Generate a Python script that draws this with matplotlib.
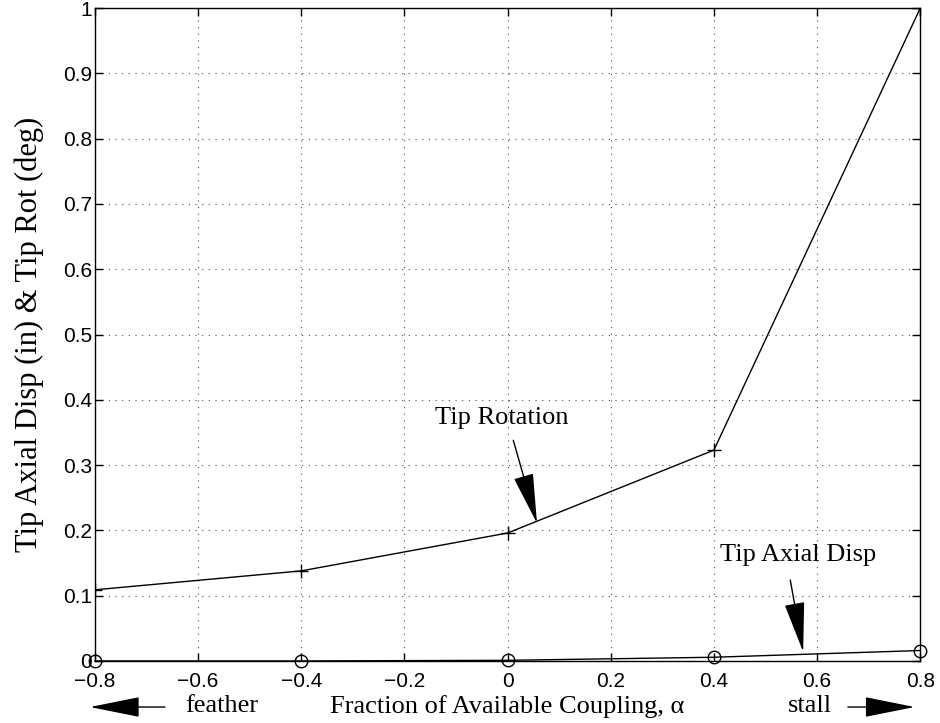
import matplotlib
matplotlib.use("Agg")
import matplotlib.pyplot as plt

# Coupling fraction (alpha) and tip responses
alpha = [-0.8, -0.4, 0.0, 0.4, 0.8]
tip_rotation = [0.109, 0.138, 0.196, 0.323, 1.0]
tip_axial_disp = [0.0, 0.0, 0.001, 0.0057, 0.016]

x_ticks = [-0.8, -0.6, -0.4, -0.2, 0.0, 0.2, 0.4, 0.6, 0.8]
x_ticklabels = ["\u22120.8", "\u22120.6", "\u22120.4", "\u22120.2", "0", "0.2", "0.4", "0.6", "0.8"]
y_ticks = [0, 0.1, 0.2, 0.3, 0.4, 0.5, 0.6, 0.7, 0.8, 0.9, 1.0]
y_ticklabels = ["0", "0.1", "0.2", "0.3", "0.4", "0.5", "0.6", "0.7", "0.8", "0.9", "1"]

sans = "Liberation Sans"
serif = "Liberation Serif"
label_size = 19

fig = plt.figure(figsize=(9.4, 7.23), dpi=100)
ax = fig.add_axes([0.101, 0.0858, 0.878, 0.903])

ax.plot(alpha, tip_rotation, color="black", lw=1.0, marker="+", ms=10, mew=1.0)
ax.plot(alpha, tip_axial_disp, color="black", lw=1.0, marker="o", ms=9,
        mfc="none", mew=1.0, clip_on=False, zorder=5)

ax.set_xlim(-0.8, 0.8)
ax.set_ylim(0, 1)
ax.set_xticks(x_ticks)
ax.set_xticklabels(x_ticklabels, fontfamily=sans, fontsize=15)
ax.set_yticks(y_ticks)
ax.set_yticklabels(y_ticklabels, fontfamily=sans, fontsize=15)
ax.tick_params(direction="in", top=True, right=True, length=6, width=1.0)
ax.tick_params(axis="x", pad=8)
ax.tick_params(axis="y", pad=2)
ax.grid(True, linestyle=(0, (1, 5)), color="black", lw=0.8, alpha=0.7)
for s in ax.spines.values():
    s.set_linewidth(1.0)

ax.set_xlabel("Fraction of Available Coupling, \u03b1", fontfamily=serif,
              fontsize=label_size, labelpad=3)
ax.set_ylabel("Tip Axial Disp (in) & Tip Rot (deg)", fontfamily=serif,
              fontsize=22, labelpad=14)

head = dict(arrowstyle="-|>,head_length=1.6,head_width=0.32", color="black",
            lw=1.0, shrinkA=0, shrinkB=0, mutation_scale=20)

# Curve callouts
ax.text(-0.011, 0.372, "Tip Rotation", fontfamily=serif, fontsize=label_size,
        ha="center", va="center")
ax.annotate("", xy=(0.057, 0.211), xytext=(0.011, 0.338), arrowprops=head)
ax.text(0.563, 0.162, "Tip Axial Disp", fontfamily=serif, fontsize=label_size,
        ha="center", va="center")
ax.annotate("", xy=(0.573, 0.014), xytext=(0.548, 0.124), arrowprops=head)

# Direction indicators below the axis
fig.text(0.197, 0.0235, "feather", fontfamily=serif, fontsize=label_size,
         ha="left", va="center")
fig.text(0.838, 0.0235, "stall", fontfamily=serif, fontsize=label_size,
         ha="left", va="center")
ax.annotate("", xy=(0.0957, 0.0221), xytext=(0.1755, 0.0221),
            xycoords="figure fraction", arrowprops=head)
ax.annotate("", xy=(0.973, 0.0221), xytext=(0.902, 0.0221),
            xycoords="figure fraction", arrowprops=head)

fig.savefig("out.png", dpi=100)
